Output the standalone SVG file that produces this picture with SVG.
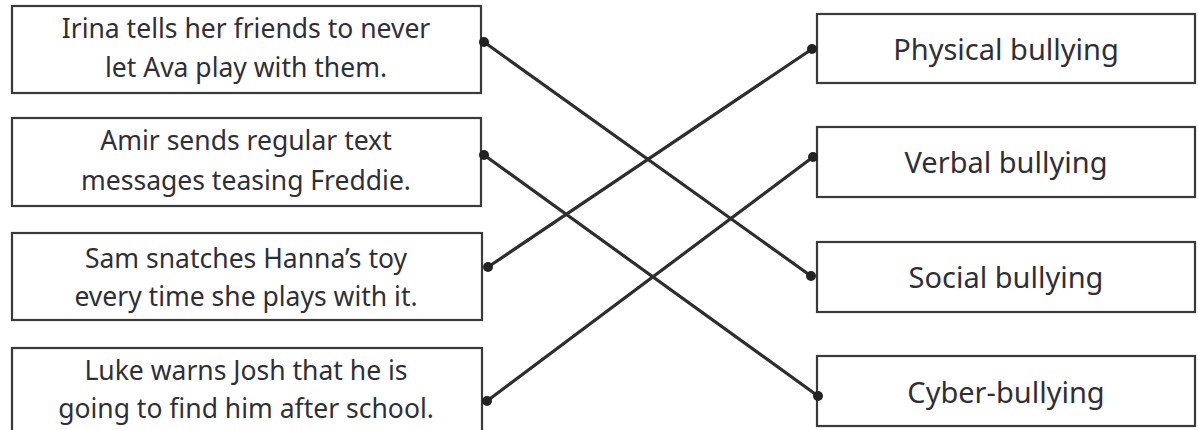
<svg xmlns="http://www.w3.org/2000/svg" width="1198" height="430" viewBox="0 0 1198 430">
<style>
.box{fill:#fff;stroke:#3a3a3a;stroke-width:2.2}
.t{font-family:"Noto Sans","DejaVu Sans",sans-serif;font-size:26.5px;fill:#2f2f38;text-anchor:middle}
.r{font-size:29px}
.c{stroke:#2e2e2e;stroke-width:3.2;fill:none;stroke-linecap:round}
.d{fill:#222}
</style>
<rect width="1198" height="430" fill="#fff"/>
<g id="l1"><rect class="box" x="12" y="6" width="469" height="87"/><text class="t" x="246" y="38">Irina tells her friends to never</text><text class="t" x="246" y="77">let Ava play with them.</text></g>
<g id="l2"><rect class="box" x="12" y="118" width="469" height="88"/><text class="t" x="246" y="150">Amir sends regular text</text><text class="t" x="246" y="190">messages teasing Freddie.</text></g>
<g id="l3"><rect class="box" x="12" y="233" width="470" height="87"/><text class="t" x="246" y="268">Sam snatches Hanna’s toy</text><text class="t" x="246" y="306">every time she plays with it.</text></g>
<g id="l4"><rect class="box" x="12" y="348" width="470" height="90"/><text class="t" x="246" y="380">Luke warns Josh that he is</text><text class="t" x="246" y="418">going to find him after school.</text></g>
<g id="r1"><rect class="box" x="817" y="14" width="378" height="69"/><text class="t r" x="1006" y="60">Physical bullying</text></g>
<g id="r2"><rect class="box" x="817" y="127" width="378" height="70"/><text class="t r" x="1006" y="173">Verbal bullying</text></g>
<g id="r3"><rect class="box" x="817" y="242" width="378" height="70"/><text class="t r" x="1006" y="288">Social bullying</text></g>
<g id="r4"><rect class="box" x="817" y="356" width="378" height="70"/><text class="t r" x="1006" y="403">Cyber-bullying</text></g>
<g id="connectors">
<line class="c" x1="484" y1="42" x2="811" y2="276"/>
<line class="c" x1="484" y1="155" x2="818" y2="396"/>
<line class="c" x1="488" y1="267" x2="812" y2="49"/>
<line class="c" x1="487" y1="401" x2="813" y2="157"/>
<circle class="d" cx="484" cy="42" r="5"/><circle class="d" cx="484" cy="155" r="5"/><circle class="d" cx="488" cy="267" r="5"/><circle class="d" cx="487" cy="401" r="5"/>
<circle class="d" cx="812" cy="49" r="5"/><circle class="d" cx="813" cy="157" r="5"/><circle class="d" cx="811" cy="276" r="5"/><circle class="d" cx="818" cy="396" r="5"/>
</g>
</svg>
